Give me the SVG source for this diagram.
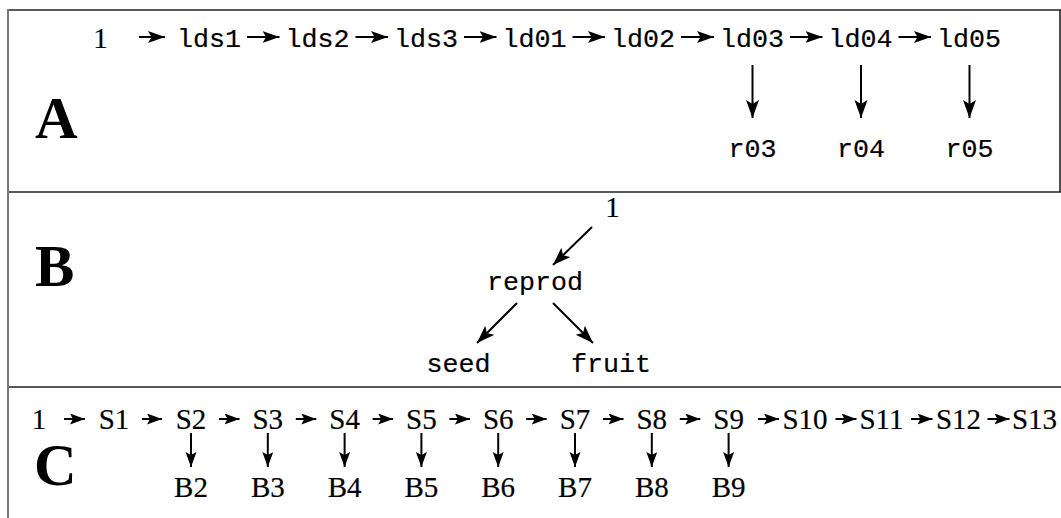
<svg xmlns="http://www.w3.org/2000/svg" width="1061" height="518" viewBox="0 0 1061 518">
<style>
.tt{font-family:"Liberation Mono","DejaVu Sans Mono",monospace;font-size:26.7px;fill:#000;stroke:#000;stroke-width:0.2;text-anchor:middle}
.rm{font-family:"Liberation Serif","DejaVu Serif",serif;font-size:29px;fill:#000;stroke:#000;stroke-width:0.2;text-anchor:middle}
.big{font-family:"Liberation Serif","DejaVu Serif",serif;font-size:59px;font-weight:bold;fill:#000}
.frame{stroke:#222;stroke-width:1.6;fill:none}
.side{stroke:#777;stroke-width:2;fill:none}
.c line{stroke:#000;stroke-width:2}
</style>
<defs>
<marker id="ha" markerUnits="userSpaceOnUse" markerWidth="20" markerHeight="14" refX="17" refY="6" orient="auto"><path d="M0,0 L17,6 L0,12 L3.5,6 z" fill="#000"/></marker>
<marker id="hv" markerUnits="userSpaceOnUse" markerWidth="20" markerHeight="15" refX="18" refY="6.5" orient="auto"><path d="M0,0 L18,6.5 L0,13 L4,6.5 z" fill="#000"/></marker>
<marker id="hs" markerUnits="userSpaceOnUse" markerWidth="17" markerHeight="13" refX="15" refY="5.5" orient="auto"><path d="M0,0 L15,5.5 L0,11 L3,5.5 z" fill="#000"/></marker>
</defs>
<g id="frame">
<line class="frame" x1="8" y1="10" x2="1061" y2="10"/>
<line class="frame" x1="1060" y1="10" x2="1060" y2="192"/>
<line class="frame" x1="8" y1="192" x2="1061" y2="192"/>
<line class="frame" x1="8" y1="387" x2="1061" y2="387"/>
<line class="side" x1="8" y1="9" x2="8" y2="518"/>
</g>
<g id="labels">
<text class="big" x="35" y="138">A</text>
<text class="big" x="35" y="286">B</text>
<text class="big" x="34" y="485">C</text>
</g>
<g id="nodesA">
<g id="a1"><text class="rm" x="100.5" y="48">1</text></g>
<g id="lds1"><text class="tt" x="209" y="47">lds1</text></g>
<g id="lds2"><text class="tt" x="317.5" y="47">lds2</text></g>
<g id="lds3"><text class="tt" x="426" y="47">lds3</text></g>
<g id="ld01"><text class="tt" x="534.5" y="47">ld01</text></g>
<g id="ld02"><text class="tt" x="643" y="47">ld02</text></g>
<g id="ld03"><text class="tt" x="752" y="47">ld03</text></g>
<g id="ld04"><text class="tt" x="860.5" y="47">ld04</text></g>
<g id="ld05"><text class="tt" x="969" y="47">ld05</text></g>
<g id="r03"><text class="tt" x="752.5" y="157">r03</text></g>
<g id="r04"><text class="tt" x="861" y="157">r04</text></g>
<g id="r05"><text class="tt" x="969.5" y="157">r05</text></g>
</g>
<g id="nodesB">
<g id="b1"><text class="rm" x="612.5" y="217">1</text></g>
<g id="reprod"><text class="tt" x="535" y="290">reprod</text></g>
<g id="seed"><text class="tt" x="458.5" y="372">seed</text></g>
<g id="fruit"><text class="tt" x="611" y="372">fruit</text></g>
</g>
<g id="nodesC">
<g id="c1"><text class="rm" x="39" y="429">1</text></g>
<g id="S1"><text class="rm" x="114" y="429">S1</text></g>
<g id="S2"><text class="rm" x="191" y="429">S2</text></g>
<g id="S3"><text class="rm" x="267.8" y="429">S3</text></g>
<g id="S4"><text class="rm" x="344.6" y="429">S4</text></g>
<g id="S5"><text class="rm" x="421.4" y="429">S5</text></g>
<g id="S6"><text class="rm" x="498.2" y="429">S6</text></g>
<g id="S7"><text class="rm" x="575" y="429">S7</text></g>
<g id="S8"><text class="rm" x="651.8" y="429">S8</text></g>
<g id="S9"><text class="rm" x="728.6" y="429">S9</text></g>
<g id="S10"><text class="rm" x="805" y="429">S10</text></g>
<g id="S11"><text class="rm" x="881.5" y="429">S11</text></g>
<g id="S12"><text class="rm" x="958.5" y="429">S12</text></g>
<g id="S13"><text class="rm" x="1034.5" y="429">S13</text></g>
<g id="B2"><text class="rm" x="191" y="497">B2</text></g>
<g id="B3"><text class="rm" x="267.8" y="497">B3</text></g>
<g id="B4"><text class="rm" x="344.6" y="497">B4</text></g>
<g id="B5"><text class="rm" x="421.4" y="497">B5</text></g>
<g id="B6"><text class="rm" x="498.2" y="497">B6</text></g>
<g id="B7"><text class="rm" x="575" y="497">B7</text></g>
<g id="B8"><text class="rm" x="651.8" y="497">B8</text></g>
<g id="B9"><text class="rm" x="728.6" y="497">B9</text></g>
</g>
<g id="connectors" class="c">
<line x1="139" y1="37" x2="165" y2="37" marker-end="url(#ha)"/>
<line x1="247" y1="37" x2="279.5" y2="37" marker-end="url(#ha)"/>
<line x1="355.5" y1="37" x2="388" y2="37" marker-end="url(#ha)"/>
<line x1="464" y1="37" x2="496.5" y2="37" marker-end="url(#ha)"/>
<line x1="572.5" y1="37" x2="605" y2="37" marker-end="url(#ha)"/>
<line x1="681" y1="37" x2="714" y2="37" marker-end="url(#ha)"/>
<line x1="790" y1="37" x2="822.5" y2="37" marker-end="url(#ha)"/>
<line x1="898.5" y1="37" x2="931" y2="37" marker-end="url(#ha)"/>
<line x1="752.5" y1="65" x2="752.5" y2="118" marker-end="url(#hv)"/>
<line x1="861" y1="65" x2="861" y2="118" marker-end="url(#hv)"/>
<line x1="969.5" y1="65" x2="969.5" y2="118" marker-end="url(#hv)"/>
<line x1="592" y1="227" x2="553" y2="265" marker-end="url(#hv)"/>
<line x1="517" y1="303" x2="477" y2="343" marker-end="url(#hv)"/>
<line x1="553" y1="303" x2="593" y2="343" marker-end="url(#hv)"/>
<line x1="64" y1="419" x2="85" y2="419" marker-end="url(#hs)"/>
<line x1="142" y1="419" x2="162" y2="419" marker-end="url(#hs)"/>
<line x1="219" y1="419" x2="239.5" y2="419" marker-end="url(#hs)"/>
<line x1="295.8" y1="419" x2="316.3" y2="419" marker-end="url(#hs)"/>
<line x1="372.6" y1="419" x2="393.1" y2="419" marker-end="url(#hs)"/>
<line x1="449.4" y1="419" x2="469.9" y2="419" marker-end="url(#hs)"/>
<line x1="526.2" y1="419" x2="546.7" y2="419" marker-end="url(#hs)"/>
<line x1="603" y1="419" x2="623.5" y2="419" marker-end="url(#hs)"/>
<line x1="679.8" y1="419" x2="700.3" y2="419" marker-end="url(#hs)"/>
<line x1="758" y1="419" x2="779" y2="419" marker-end="url(#hs)"/>
<line x1="835.5" y1="419" x2="856.5" y2="419" marker-end="url(#hs)"/>
<line x1="911" y1="419" x2="932.5" y2="419" marker-end="url(#hs)"/>
<line x1="987.5" y1="419" x2="1009.5" y2="419" marker-end="url(#hs)"/>
<line x1="191" y1="433" x2="191" y2="467" marker-end="url(#hs)"/>
<line x1="267.8" y1="433" x2="267.8" y2="467" marker-end="url(#hs)"/>
<line x1="344.6" y1="433" x2="344.6" y2="467" marker-end="url(#hs)"/>
<line x1="421.4" y1="433" x2="421.4" y2="467" marker-end="url(#hs)"/>
<line x1="498.2" y1="433" x2="498.2" y2="467" marker-end="url(#hs)"/>
<line x1="575" y1="433" x2="575" y2="467" marker-end="url(#hs)"/>
<line x1="651.8" y1="433" x2="651.8" y2="467" marker-end="url(#hs)"/>
<line x1="728.6" y1="433" x2="728.6" y2="467" marker-end="url(#hs)"/>
</g>
</svg>
